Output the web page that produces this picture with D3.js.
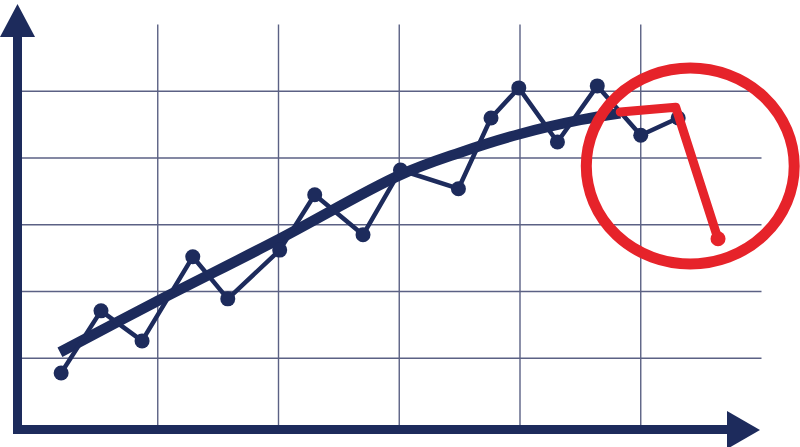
<!DOCTYPE html>
<html><head><meta charset="utf-8">
<script src="https://cdn.jsdelivr.net/npm/d3@7"></script>
<style>html,body{margin:0;padding:0;background:#fff;}svg{display:block;}</style>
</head><body>
<svg id="c" width="800" height="447"></svg>
<script>
// ---- data (abstract units) ----
const gridX = [1, 2, 3, 4, 5];
const gridY = [1, 2, 3, 4, 5];
const seriesX = [0.20, 0.53, 0.87, 1.29, 1.58, 2.01, 2.30, 2.70, 3.01, 3.49, 3.76, 3.99, 4.31, 4.64, 5.00, 5.31];
const seriesY = [0.78, 1.71, 1.26, 2.52, 1.89, 2.62, 3.45, 2.85, 3.82, 3.54, 4.60, 5.05, 4.24, 5.08, 4.34, 4.60];
const trendX = [0.19, 1.00, 2.00, 3.00, 3.50, 4.00, 4.50, 4.83];
const trendY = [1.09, 1.86, 2.78, 3.74, 4.08, 4.36, 4.57, 4.67];
const dropX = [4.83, 5.29, 5.64];
const dropY = [4.69, 4.76, 2.79];
const ringCenter = [5.41, 3.88];
const ringRadius = [0.861, 1.468];

const navy = "#1d2b5c", red = "#e6232a", gridC = "#5b6184";
const svg = d3.select("#c");
const x = d3.scaleLinear().domain([0, 6]).range([37, 761.5]);
const y = d3.scaleLinear().domain([0, 6]).range([425, 24.5]);

// grid
const g = svg.append("g");
g.selectAll(".vx").data(gridX).join("line")
  .attr("x1", d => x(d)).attr("x2", d => x(d))
  .attr("y1", y(6)).attr("y2", y(0))
  .attr("stroke", gridC).attr("stroke-width", 1.4);
g.selectAll(".hy").data(gridY).join("line")
  .attr("x1", 20).attr("x2", x(6))
  .attr("y1", d => y(d)).attr("y2", d => y(d))
  .attr("stroke", gridC).attr("stroke-width", 1.4);

// axes with arrows
svg.append("path")
  .attr("d", `M17.5,34 L17.5,429.5 L729,429.5`)
  .attr("fill", "none").attr("stroke", navy).attr("stroke-width", 9)
  .attr("stroke-linejoin", "miter");
svg.append("path").attr("d", "M0,37 L35,37 L17.5,4 Z").attr("fill", navy);
svg.append("path").attr("d", "M727,411 L727,449 L760,430 Z").attr("fill", navy);

// trend
const trend = trendX.map((v, i) => [v, trendY[i]]);
svg.append("path").datum(trend)
  .attr("d", d3.line().x(d => x(d[0])).y(d => y(d[1])).curve(d3.curveCatmullRom.alpha(0.5)))
  .attr("fill", "none").attr("stroke", navy).attr("stroke-width", 10.5);

// series
const pts = seriesX.map((v, i) => [v, seriesY[i]]);
svg.append("path").datum(pts)
  .attr("d", d3.line().x(d => x(d[0])).y(d => y(d[1])))
  .attr("fill", "none").attr("stroke", navy).attr("stroke-width", 4.5)
  .attr("stroke-linejoin", "round");
svg.selectAll(".pt").data(pts).join("circle")
  .attr("cx", d => x(d[0])).attr("cy", d => y(d[1])).attr("r", 7.5)
  .attr("fill", navy);

// red annotation
const drop = dropX.map((v, i) => [v, dropY[i]]);
svg.append("path").datum(drop)
  .attr("d", d3.line().x(d => x(d[0])).y(d => y(d[1])))
  .attr("fill", "none").attr("stroke", red).attr("stroke-width", 9)
  .attr("stroke-linejoin", "round").attr("stroke-linecap", "round");
svg.append("circle").attr("cx", x(dropX[2])).attr("cy", y(dropY[2])).attr("r", 7.5).attr("fill", red);
const cx = x(ringCenter[0]), cy = y(ringCenter[1]);
svg.append("ellipse").attr("cx", cx).attr("cy", cy)
  .attr("rx", x(ringCenter[0] + ringRadius[0]) - cx)
  .attr("ry", cy - y(ringCenter[1] + ringRadius[1]))
  .attr("fill", "none").attr("stroke", red).attr("stroke-width", 11);
</script>
</body></html>
